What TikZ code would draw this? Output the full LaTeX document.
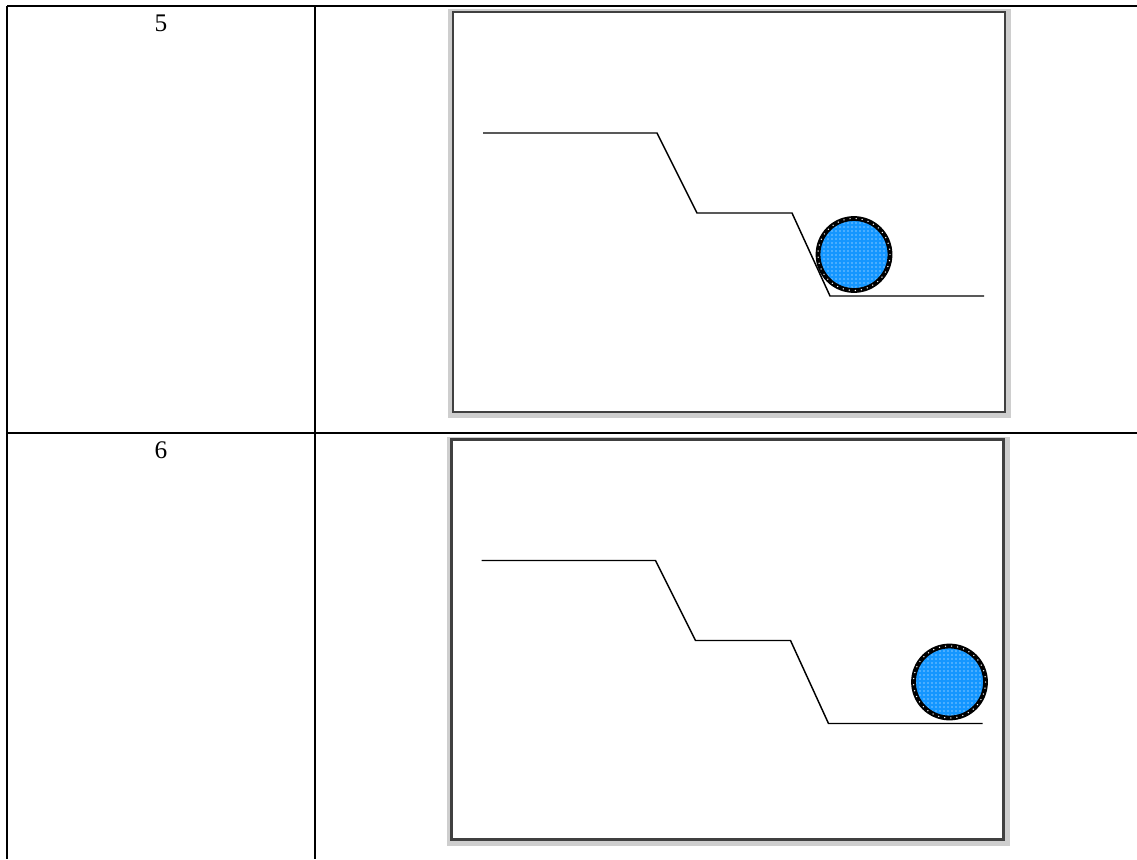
\documentclass[tikz,border=0pt]{standalone}
\usepackage{fontspec}
\setmainfont{Liberation Serif}
\usetikzlibrary{patterns}
\definecolor{ballblue}{RGB}{20,150,255}
\definecolor{framegray}{RGB}{64,64,64}
\definecolor{shadowgray}{RGB}{206,206,206}
\tikzset{
  rule/.style     = {line width=1.5pt, draw=black},
  shadowbox/.style= {fill=shadowgray},
  frame/.style    = {line width=2pt, draw=framegray, fill=white},
  track/.style    = {line width=1.1pt, draw=black, line join=miter},
  ball/.style     = {line width=3.6pt, draw=black},
  balldots/.style = {pattern=dots, pattern color=white},
  rimdots/.style  = {draw=white, line width=1.1pt, line cap=round, dash pattern=on 0pt off 4.6pt},
  num/.style      = {font=\fontsize{19}{22}\selectfont, inner sep=0pt},
}
\begin{document}
\begin{tikzpicture}[x=0.75pt, y=-0.75pt]
  \useasboundingbox (0,0) rectangle (1137,859);
  % table rules
  \coordinate (tl) at (7,6);
  \coordinate (tr) at (1137,6);
  \coordinate (ml) at (7,433);
  \coordinate (mr) at (1137,433);
  \coordinate (bl) at (7,859);
  \coordinate (ct) at (315,6);
  \coordinate (cb) at (315,859);
  \draw[rule] (tl) -- (tr);
  \draw[rule] (ml) -- (mr);
  \draw[rule] (tl) -- (bl);
  \draw[rule] (ct) -- (cb);
  % the two rows: label, frame, track and ball
  \foreach \n/\dx/\dy/\bx in {5/0/0/854, 6/-1.5/427.5/951} {
    \node[num] (lbl\n) at (161,23+\dy) {\n};
    \begin{scope}[shift={(\dx,\dy)}]
      \fill[shadowbox] (448,9) rectangle (1011,418);
      \draw[frame] (453,12) rectangle (1005,412);
      \draw[track] (483,133) -- (657,133) -- (697,213) -- (792,213) -- (830,296) -- (984,296);
      \fill[ballblue] (\bx,254.5) circle (36);
      \fill[balldots] (\bx,254.5) circle (36);
      \draw[ball] (\bx,254.5) circle (36);
      \draw[rimdots] (\bx,254.5) circle (36);
    \end{scope}
  }
\end{tikzpicture}
\end{document}
